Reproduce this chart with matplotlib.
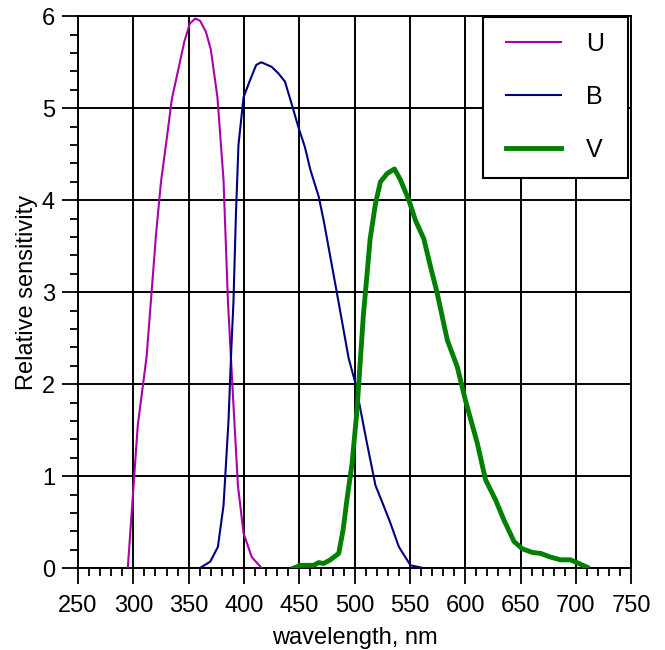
import matplotlib
matplotlib.use("Agg")
import matplotlib.pyplot as plt
from matplotlib.ticker import MultipleLocator
from matplotlib.patches import Rectangle

plt.rcParams['font.family'] = ['Liberation Sans', 'DejaVu Sans']

u_nm = [295, 304, 312, 320.6, 325, 330, 334.8, 340.8, 346, 351, 356, 360.4, 365.6, 370, 376,
        381.5, 385.5, 390.5, 394.5, 399.6, 407, 416]
u_val = [0.0, 1.55, 2.3, 3.64, 4.2, 4.65, 5.1, 5.43, 5.72, 5.92, 5.975, 5.95, 5.83, 5.64, 5.12,
         4.22, 2.9, 1.77, 0.9, 0.38, 0.12, 0.0]

b_nm = [360, 369.5, 376.4, 381.5, 386, 388.5, 390.5, 392.7, 395, 399.6, 405, 411, 415.6, 425, 431,
        437, 443, 449, 455, 460, 467.5, 472, 484, 494.6, 500.7, 510.6, 518.8, 524.8, 532, 540,
        550.5, 562.5]
b_val = [0.0, 0.07, 0.23, 0.68, 1.6, 2.37, 2.9, 3.84, 4.6, 5.12, 5.29, 5.47, 5.50, 5.45, 5.38,
         5.29, 5.05, 4.80, 4.58, 4.33, 4.04, 3.78, 2.99, 2.28, 2.01, 1.39, 0.9, 0.72, 0.50, 0.23,
         0.03, 0.0]

v_nm = [444.8, 451, 463, 467.5, 472, 478, 485.6, 489.5, 493, 497.7, 502, 508, 509.7, 514, 518.8,
        523.3, 529.4, 536, 541.4, 549, 555, 562.5, 568.5, 574.6, 583.7, 592.7, 600, 610.8, 618.3,
        627.4, 635, 644, 651.5, 660.6, 668, 677, 686, 695, 702.7, 710]
v_val = [0.0, 0.03, 0.03, 0.06, 0.05, 0.09, 0.16, 0.41, 0.74, 1.14, 1.7, 2.77, 2.99, 3.58, 3.96,
         4.20, 4.29, 4.34, 4.22, 4.0, 3.78, 3.58, 3.28, 2.99, 2.48, 2.19, 1.83, 1.36, 0.96,
         0.74, 0.52, 0.29, 0.21, 0.17, 0.16, 0.12, 0.09, 0.09, 0.05, 0.01]

fig = plt.figure(figsize=(6.65, 6.5), dpi=100)
ax = fig.add_axes([0.1173, 0.126, 0.832, 0.849])

ax.plot(u_nm, u_val, color='#AA00AA', lw=1.5, label='U', zorder=3)
ax.plot(b_nm, b_val, color='#000080', lw=1.5, label='B', zorder=3)
ax.plot(v_nm, v_val, color='#008000', lw=3.5, label='V', zorder=3)

ax.set_xlim(250, 750)
ax.set_ylim(0, 6)
ax.xaxis.set_major_locator(MultipleLocator(50))
ax.xaxis.set_minor_locator(MultipleLocator(10))
ax.yaxis.set_major_locator(MultipleLocator(1))
ax.yaxis.set_minor_locator(MultipleLocator(0.2))
ax.grid(True, which='major', color='black', lw=1.4)
ax.set_axisbelow(True)
ax.tick_params(which='major', direction='out', length=11.5, width=1.3, labelsize=17)
ax.tick_params(axis='x', which='major', pad=8)
ax.tick_params(axis='y', which='major', pad=5)
ax.tick_params(which='minor', direction='out', length=5.8, width=1.3)
for s in ax.spines.values():
    s.set_linewidth(1.4)
    s.set_color('black')

ax.set_xlabel('wavelength, nm', fontsize=17, labelpad=7)
ax.set_ylabel('Relative sensitivity', fontsize=17, labelpad=3)

# legend frame
frame = Rectangle((0.7314, 0.7067), 0.9946 - 0.7314, 0.9984 - 0.7067, transform=ax.transAxes,
                  facecolor='white', edgecolor='black', lw=1.5, zorder=4.5, clip_on=False)
ax.add_patch(frame)
leg = ax.legend(loc='upper left', bbox_to_anchor=(0.7735, 0.9722), borderaxespad=0,
                borderpad=0, frameon=False, fontsize=18,
                handlelength=2.2, handletextpad=1.0, labelspacing=1.16)
leg.set_zorder(5)

fig.savefig('out.png', dpi=100)
